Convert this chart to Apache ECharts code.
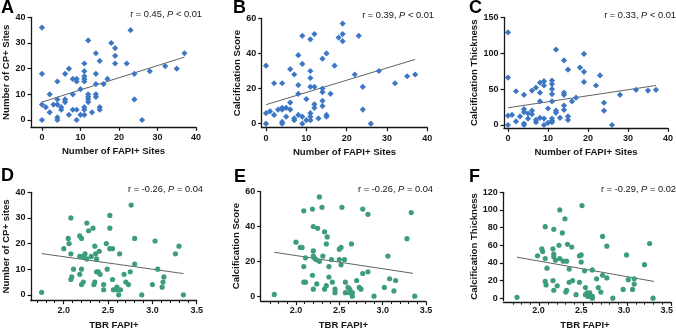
<!DOCTYPE html>
<html>
<head>
<meta charset="utf-8">
<script src="https://cdn.jsdelivr.net/npm/echarts@6/dist/echarts.min.js"></script>
<style>
html, body { margin: 0; padding: 0; background: #fff; }
#main { width: 676px; height: 331px; }
</style>
</head>
<body>
<div id="main"></div>
<script>
// top row: x = number of FAPI+ sites
var xA = [0,0,0,0,1,2,2,3,4,4,4,4,4,5,5,6,6,6,7,7,8,8,8,9,9,9,9,10,10,11,11,11,11,11,11,11,11,12,12,12,12,12,13,14,14,14,14,14,15,15,15,16,17,18,19,19,19,22,23,24,24,26,28,32,35,37];
var yA = [36,18,6,0,5,10,3,6,15,8,6,1,0,5,4,18,8,7,20,2,16,10,4,16,15,4,0,12,2,22,19,17,16,15,5,4,2,31,10,9,8,7,3,26,18,14,10,9,23,5,4,14,16,30,28,25,22,22,35,18,8,0,19,21,20,26];
var xB = [0,0,0,1,2,2,3,4,4,4,4,4,5,5,6,6,6,7,7,7,8,8,8,8,9,9,9,9,10,10,11,11,11,11,11,11,11,12,12,12,12,13,14,14,14,14,14,15,15,15,16,17,18,19,19,19,22,23,24,24,26,28,32,35,37];
var yB = [33,6,0,7,23,5,8,23,9,8,1,0,9,4,31,12,8,28,3,2,39,22,17,5,50,34,4,0,14,2,48,30,26,21,6,4,2,51,21,11,9,3,37,20,18,13,10,40,5,4,17,33,49,57,51,47,28,50,21,8,0,30,23,27,28];
var xC = [0,0,0,0,1,2,2,3,4,4,4,4,4,5,5,6,6,6,7,7,7,8,8,8,8,9,9,9,9,10,10,11,11,11,11,11,11,11,11,12,12,12,13,14,14,14,14,14,15,15,15,16,17,18,19,19,19,22,23,24,24,26,28,32,35,37];
var yC = [129,66,13,0,14,47,5,12,42,22,18,2,0,16,9,48,20,15,52,7,4,59,45,33,10,61,55,9,0,23,3,62,57,50,43,33,9,6,4,105,20,17,10,90,45,42,27,21,77,12,7,33,38,80,99,74,60,55,69,31,20,0,42,49,48,49];

// bottom row: x = TBR FAPI+
var xD = [1.75,2.0,2.05,2.06,2.08,2.08,2.11,2.09,2.08,2.18,2.18,2.2,2.2,2.18,2.2,2.22,2.22,2.24,2.26,2.26,2.28,2.31,2.33,2.34,2.35,2.35,2.36,2.37,2.37,2.39,2.4,2.41,2.45,2.45,2.48,2.49,2.52,2.52,2.52,2.55,2.55,2.56,2.58,2.6,2.61,2.62,2.63,2.64,2.68,2.7,2.73,2.75,2.76,2.8,2.8,2.88,3.0,3.03,3.06,3.11,3.13,3.12,3.26,3.3,3.35];
var yD = [1,18,22,20,30,16,10,7,6,15,23,22,10,8,4,15,5,16,28,14,25,15,26,4,5,19,16,14,9,9,17,8,4,2,20,10,26,31,18,18,6,2,2,3,2,0,16,2,8,5,4,9,35,12,22,0,4,21,10,3,7,5,16,19,0];
var xE = [1.75,2.0,2.05,2.07,2.09,2.09,2.09,2.11,2.11,2.19,2.2,2.2,2.2,2.21,2.19,2.2,2.23,2.24,2.25,2.27,2.27,2.3,2.31,2.33,2.33,2.35,2.35,2.36,2.38,2.38,2.41,2.42,2.45,2.45,2.5,2.52,2.5,2.52,2.53,2.56,2.57,2.57,2.6,2.62,2.62,2.64,2.65,2.65,2.7,2.73,2.75,2.77,2.77,2.83,2.83,2.9,3.02,3.06,3.08,3.13,3.15,3.28,3.33,3.37];
var yE = [1,31,28,28,49,17,8,8,22,50,40,26,23,22,12,4,21,7,39,57,20,51,23,37,4,6,30,34,17,11,21,8,4,2,27,28,21,18,51,21,8,2,5,4,2,30,0,2,9,5,4,13,50,47,14,0,5,23,10,3,9,33,48,0];
var xF = [1.75,1.99,2.04,2.05,2.08,2.08,2.08,2.09,2.1,2.17,2.18,2.18,2.17,2.18,2.18,2.2,2.22,2.24,2.25,2.25,2.28,2.29,2.31,2.32,2.33,2.33,2.34,2.36,2.36,2.39,2.4,2.44,2.48,2.48,2.5,2.5,2.51,2.54,2.55,2.55,2.57,2.58,2.59,2.6,2.63,2.63,2.63,2.68,2.7,2.73,2.75,2.75,2.8,2.8,2.87,2.99,3.03,3.05,3.1,3.12,3.12,3.24,3.3,3.34];
var yF = [1,48,56,53,81,45,19,15,34,56,50,47,20,78,9,43,14,60,100,45,74,42,90,7,9,42,61,33,18,58,20,4,48,18,49,41,105,31,12,4,6,2,4,6,32,2,0,22,12,7,70,26,59,23,0,10,49,21,10,22,16,38,62,0];

// regression lines (end points)
var fitA = [[0,7],[37,24.5]];
var fitB = [[0,10.8],[37,36.6]];
var fitC = [[0,24],[37,55]];
var fitD = [[1.75,16.1],[3.35,8.3]];
var fitE = [[1.75,25.2],[3.35,13.1]];
var fitF = [[1.75,46.5],[3.35,19]];

// tick labels
var sitesTicks = [0,10,20,30,40];
var tbrTicks = [2.0,2.5,3.0,3.5];
var tbrMinor = [1.7,1.8,1.9,2.1,2.2,2.3,2.4,2.6,2.7,2.8,2.9,3.1,3.2,3.3,3.4];
var cpTicks = [0,10,20,30,40];
var scoreTicks = [0,20,40,60];
var thickTicksC = [0,50,100,150];
var thickTicksF = [0,20,40,60,80,100,120];

var stats = ['r = 0.45, ', '< 0.01', 'r = 0.39, ', '< 0.01', 'r = 0.33, ', '< 0.01',
             'r = -0.26, ', '= 0.04', 'r = -0.26, ', '= 0.04', 'r = -0.29, ', '= 0.02'];

var FONT = '"Liberation Sans", Arial, sans-serif';
var INK = '#161616';
var BLUE = '#3d77c4';
var GREEN = '#3e9c7e';

var panels = [
    { box: [30.7, 17.3, 165.3, 110], xr: [-2.85, 40], yr: [-2.84, 40], xt: sitesTicks, yt: cpTicks, xs: xA, ys: yA, fit: fitA,
      xn: 'Number of FAPI+ Sites', yn: 'Number of CP+ Sites', yg: 20, letter: 'A', lp: [1, 8], sp: [202, 14.5] },
    { box: [261.7, 18.3, 165.6, 109.4], xr: [-1.07, 40], yr: [-2.3, 60], xt: sitesTicks, yt: scoreTicks, xs: xB, ys: yB, fit: fitB,
      xn: 'Number of FAPI+ Sites', yn: 'Calcification Score', yg: 19, letter: 'B', lp: [233, 8], sp: [434, 15] },
    { box: [504, 17.3, 166, 111], xr: [-1, 40], yr: [-4.6, 150], xt: sitesTicks, yt: thickTicksC, xs: xC, ys: yC, fit: fitC,
      xn: 'Number of FAPI+ Sites', yn: 'Calcification Thickness', yg: 23, letter: 'C', lp: [469, 8.5], sp: [676, 15] },
    { box: [30.7, 192.3, 166, 108.4], xr: [1.63, 3.5], yr: [-2.2, 40], xt: tbrTicks, yt: cpTicks, xs: xD, ys: yD, fit: fitD,
      xn: 'TBR FAPI+', yn: 'Number of CP+ sites', yg: 20, letter: 'D', lp: [1, 176], sp: [203, 189] },
    { box: [260.7, 191.7, 165.3, 110], xr: [1.593, 3.5], yr: [-2.5, 60], xt: tbrTicks, yt: scoreTicks, xs: xE, ys: yE, fit: fitE,
      xn: 'TBR FAPI+', yn: 'Calcification Score', yg: 18, letter: 'E', lp: [234, 177.5], sp: [433, 189] },
    { box: [503.3, 192.3, 167.7, 110], xr: [1.59, 3.5], yr: [-2.6, 120], xt: tbrTicks, yt: thickTicksF, xs: xF, ys: yF, fit: fitF,
      xn: 'TBR FAPI+', yn: 'Calcification Thickness', yg: 22, letter: 'F', lp: [469, 177.5], sp: [676, 189] }
];

function oneDecimal(v) {
    var n = Number(v);
    return isNaN(n) ? String(v) : n.toFixed(1);
}

function axisBase(gi, range, ticks) {
    return {
        type: 'value', gridIndex: gi, min: range[0], max: range[1],
        axisLine: { show: true, onZero: false, lineStyle: { color: INK, width: 1.3 } },
        axisTick: { show: true, length: 3.5, customValues: ticks, lineStyle: { color: INK, width: 1.2 } },
        axisLabel: { customValues: ticks, fontFamily: FONT, fontWeight: 'bold', fontSize: 9, color: INK },
        splitLine: { show: false },
        nameLocation: 'middle',
        nameTextStyle: { fontFamily: FONT, fontWeight: 'bold', fontSize: 9.6, color: INK }
    };
}

function gridBox(b) {
    return { left: b[0], top: b[1], width: b[2], height: b[3], containLabel: false };
}

// overlay grid carrying only a tick / line axis for the TBR panels
function tickOverlay(p, ticks, len, withLine) {
    var gi = grid.length;
    grid.push(gridBox(p.box));
    xAxis.push({
        type: 'value', gridIndex: gi, min: p.xr[0], max: p.xr[1],
        position: 'bottom',
        axisLine: { show: withLine, onZero: false, lineStyle: { color: INK, width: 1.3 } },
        axisTick: { show: true, length: len, customValues: ticks, lineStyle: { color: INK, width: withLine ? 1.2 : 1 } },
        axisLabel: { show: false },
        splitLine: { show: false }
    });
    yAxis.push({
        type: 'value', gridIndex: gi, min: 0, max: 1,
        axisLine: { show: false }, axisTick: { show: false }, axisLabel: { show: false }, splitLine: { show: false }
    });
}

var grid = [], xAxis = [], yAxis = [], series = [], graphic = [];

panels.forEach(function (p, i) {
    var bottomRow = i > 2;
    grid.push(gridBox(p.box));

    var xa = axisBase(i, p.xr, p.xt);
    xa.position = 'bottom';
    xa.name = p.xn;
    xa.nameGap = 19.5;
    xa.axisLabel.margin = 6;
    if (bottomRow) {
        // line and ticks come from the overlay axes below
        xa.axisLabel.formatter = oneDecimal;
        xa.axisLine.show = false;
        xa.axisTick.show = false;
    }
    xAxis.push(xa);

    var ya = axisBase(i, p.yr, p.yt);
    ya.position = 'left';
    ya.name = p.yn;
    ya.nameGap = p.yg;
    ya.axisLabel.margin = 5.5;
    yAxis.push(ya);

    var pts = p.xs.map(function (x, k) { return [x, p.ys[k]]; });
    series.push({
        type: 'scatter', xAxisIndex: i, yAxisIndex: i, data: pts,
        symbol: bottomRow ? 'circle' : 'diamond',
        symbolSize: bottomRow ? 5.2 : 6.2,
        itemStyle: { color: bottomRow ? GREEN : BLUE, opacity: 1 },
        silent: true, z: 3
    });
    series.push({
        type: 'line', xAxisIndex: i, yAxisIndex: i, data: p.fit,
        symbol: 'none', silent: true, z: 2,
        lineStyle: { color: '#3a3a3a', width: 0.8 }
    });

    graphic.push({
        type: 'text', x: p.lp[0], y: p.lp[1],
        style: { text: p.letter, fontFamily: FONT, fontWeight: 'bold', fontSize: 18, fill: '#000', textAlign: 'left', textVerticalAlign: 'middle' }
    });
    graphic.push({
        type: 'text', x: p.sp[0], y: p.sp[1],
        style: {
            text: '{n|' + stats[i * 2] + '}{i|P}{n| ' + stats[i * 2 + 1] + '}',
            textAlign: 'right', textVerticalAlign: 'middle',
            rich: {
                n: { fontFamily: FONT, fontSize: 9.3, fill: INK },
                i: { fontFamily: FONT, fontSize: 9.3, fontStyle: 'italic', fill: INK }
            }
        }
    });
});

for (var g = 3; g < 6; g++) {
    tickOverlay(panels[g], tbrTicks, 3.5, true);
    tickOverlay(panels[g], tbrMinor, 2.4, false);
}

var chart = echarts.init(document.getElementById('main'), null, { renderer: 'canvas' });
chart.setOption({
    animation: false,
    backgroundColor: '#fff',
    grid: grid,
    xAxis: xAxis,
    yAxis: yAxis,
    series: series,
    graphic: graphic
});
</script>
</body>
</html>
